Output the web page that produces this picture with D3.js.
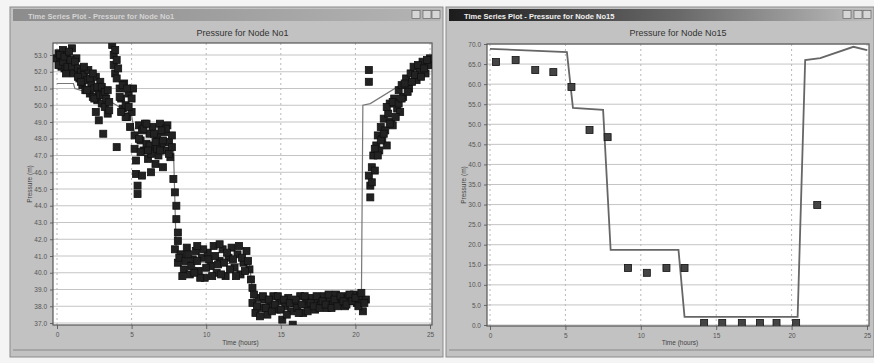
<!DOCTYPE html>
<html>
<head>
<meta charset="utf-8">
<script src="https://cdn.jsdelivr.net/npm/d3@7"></script>
<style>
  body { margin: 0; background: #f2f2f2; }
  svg { display: block; font-family: "Liberation Sans", Arial, sans-serif; }
</style>
</head>
<body>
<div id="chart"></div>
<script>
// ---- data ----
const timeTicks = [0, 5, 10, 15, 20, 25];
const node1Ticks = [37, 38, 39, 40, 41, 42, 43, 44, 45, 46, 47, 48, 49, 50, 51, 52, 53];
const node15Ticks = [0, 5, 10, 15, 20, 25, 30, 35, 40, 45, 50, 55, 60, 65, 70];

// Node 1 observed [hour, pressure]
const node1Observed = [
  [0.0,52.8],[0.1,53.1],[0.2,52.5],[0.3,52.9],[0.4,53.3],[0.5,52.2],[0.6,52.7],[0.7,53.0],[0.8,52.4],[0.9,52.0],
  [1.0,53.4],[1.1,52.6],[1.2,52.1],[0.3,52.3],[0.6,51.9],[1.3,52.8],
  [0.1,52.4],[0.2,53.0],[0.4,52.6],[0.5,52.9],[0.7,52.3],[0.8,53.2],[0.9,52.7],[1.0,52.3],[1.1,51.9],[1.2,52.6],
  [1.4,52.2],[1.5,51.6],[1.6,52.0],[1.7,51.2],[1.8,51.8],[1.9,50.9],[2.0,51.5],[2.1,52.1],[2.2,50.7],[2.3,51.3],
  [2.4,50.5],[2.5,51.0],[2.6,51.7],[2.7,50.3],[2.8,50.8],[2.9,51.4],[3.0,50.1],[2.6,49.6],[2.8,49.1],
  [1.4,51.7],[1.6,51.4],[1.8,52.3],[2.0,50.9],[2.2,51.6],[2.4,51.9],[2.5,50.4],[2.7,51.1],[2.9,50.6],[3.0,51.1],
  [3.1,50.6],[3.2,49.9],[3.3,50.4],[3.1,48.3],[3.4,49.5],[3.5,50.2],[3.2,50.8],[3.4,50.9],[3.5,49.7],
  [3.7,53.6],[3.8,53.0],[3.8,52.4],[3.9,53.3],[3.9,51.9],[4.0,52.7],[4.0,51.6],[4.1,52.2],[4.0,47.5],
  [4.2,51.0],[4.3,50.4],[4.4,49.8],[4.5,51.3],[4.6,50.0],[4.7,49.3],[4.8,50.7],[4.9,48.7],[5.0,49.6],[5.1,51.0],
  [4.2,50.5],[4.4,51.2],[4.6,49.3],[4.8,49.9],[5.0,50.4],[4.3,49.6],[4.7,51.0],
  [5.2,48.2],[5.2,47.4],[5.3,46.7],[5.3,45.9],[5.4,45.2],[5.4,44.7],
  [5.5,48.8],[5.6,47.9],[5.7,48.5],[5.8,47.3],[5.9,48.9],[6.0,47.7],[6.1,46.8],[6.2,48.3],[6.3,47.1],[6.4,48.7],
  [6.5,47.5],[6.6,46.5],[6.7,48.1],[6.8,47.0],[6.9,48.9],[7.0,47.6],[7.1,46.3],[7.2,48.4],[7.3,47.3],[7.4,48.8],
  [7.5,47.8],[7.6,46.9],[7.7,48.2],[7.8,45.6],[7.9,44.8],[6.3,46.0],[5.7,45.8],
  [5.5,48.0],[5.8,48.6],[6.0,48.9],[6.2,47.6],[6.5,48.3],[6.7,47.4],[6.9,47.3],[7.1,47.9],[7.3,48.6],[7.5,47.1],
  [7.7,47.5],[6.1,47.3],[6.6,47.8],[7.0,48.5],[5.6,47.2],
  [8.0,44.0],[8.0,43.2],[8.1,42.4],[8.1,41.9],
  [7.9,41.4],[8.1,40.6],[8.3,41.1],[8.5,40.2],[8.7,41.5],[8.9,39.9],[9.1,40.8],[9.3,41.3],[9.5,40.1],[9.7,40.9],
  [9.9,39.7],[10.1,41.2],[10.3,40.4],[10.5,41.6],[10.7,40.0],[10.9,40.7],[11.1,41.4],[11.3,39.8],[11.5,40.9],[11.7,41.5],
  [11.9,40.3],[12.1,41.1],[12.3,39.9],[12.5,40.6],[12.7,41.3],[12.9,40.2],[8.4,39.8],[9.6,39.7],[11.0,39.9],[12.2,41.6],
  [8.2,40.9],[8.6,40.7],[8.8,41.1],[9.0,40.4],[9.2,40.0],[9.4,40.7],[9.8,41.4],[10.0,40.3],[10.2,40.8],[10.4,39.8],
  [10.6,41.0],[10.8,40.5],[11.2,40.6],[11.4,41.2],[11.6,40.2],[11.8,40.8],[12.0,39.8],[12.4,40.9],[12.6,40.1],[12.8,40.7],
  [9.4,41.6],[10.9,41.7],
  [13.0,39.6],[13.1,39.1],
  [13.1,38.2],[13.3,37.6],[13.5,38.5],[13.7,37.9],[13.9,38.4],[14.1,37.5],[14.3,38.1],[14.5,38.6],[14.7,37.8],[14.9,38.3],
  [15.1,37.2],[15.3,38.0],[15.5,38.5],[15.7,37.7],[15.9,38.2],[16.1,37.9],[16.3,38.6],[16.5,37.6],[16.7,38.3],[16.9,38.0],
  [17.1,38.5],[17.3,37.8],[17.5,38.4],[17.7,38.1],[17.9,38.6],[18.1,37.9],[18.3,38.4],[18.5,38.1],[18.7,38.7],[18.9,38.2],
  [19.1,38.5],[19.3,38.0],[19.5,38.6],[19.7,38.3],[19.9,38.7],[20.1,38.2],[20.3,38.6],[20.5,37.7],[20.7,38.4],[15.8,36.9],
  [13.2,38.7],[13.4,38.0],[13.6,37.4],[13.8,38.6],[14.0,37.9],[14.2,38.4],[14.4,37.7],[14.6,38.1],[14.8,38.6],[15.0,37.8],
  [15.2,38.4],[15.4,37.5],[15.6,38.2],[16.0,38.4],[16.2,37.6],[16.4,38.1],[16.6,38.6],[16.8,37.7],[17.0,38.2],[17.2,38.0],
  [17.4,38.6],[17.6,37.9],[17.8,38.3],[18.0,38.1],[18.2,38.7],[18.4,37.9],[18.6,38.4],[18.8,38.0],[19.0,38.6],[19.2,38.3],
  [19.4,38.1],[19.6,38.7],[19.8,38.3],[20.0,38.5],[20.2,38.0],[20.4,38.8],[20.6,38.2],
  [20.9,52.1],[20.9,51.4],
  [20.9,45.8],[21.0,44.5],[21.0,45.2],[21.1,46.3],[21.2,47.0],[21.3,46.1],[21.4,47.6],[21.5,48.2],[21.6,47.3],[21.7,48.7],
  [21.8,48.0],[21.9,49.2],[22.0,48.5],[22.2,49.5],[22.3,50.1],[22.4,49.0],[22.6,50.4],[22.8,49.8],[22.9,50.9],[23.1,51.2],
  [23.2,50.5],[23.4,51.6],[23.6,51.0],[23.7,51.9],[23.9,52.3],[24.1,51.5],[24.3,52.1],[24.5,52.6],[24.7,51.9],[24.9,52.4],
  [25.0,52.8],[22.1,47.6],[22.5,48.8],[23.0,49.6],
  [21.1,45.4],[21.3,47.4],[21.5,47.0],[21.7,47.9],[21.9,48.3],[22.1,49.9],[22.3,48.9],[22.5,50.2],[22.7,49.3],[22.9,50.1],
  [23.1,50.4],[23.3,51.3],[23.5,50.8],[23.8,51.4],[24.0,51.8],[24.2,52.4],[24.4,51.7],[24.6,52.2],[24.8,52.7]
];

// Node 1 simulated
const node1Simulated = [
  [0,51.3],[1.1,51.3],[1.2,51.0],[3,50.5],[4,50.0],[5,49.4],[5.3,47.8],[7.8,47.6],[8.0,41.0],[8.2,40.7],
  [12.9,40.5],[13.2,38.2],[20.4,38.1],[20.5,50.0],[21.0,50.1],[25,52.3]
];

// Node 15 observed
const node15Observed = [
  [0.4,65.5],[1.7,66.0],[3.0,63.5],[4.2,63.0],[5.4,59.3],[6.6,48.6],[7.8,46.8],[9.15,14.2],[10.4,13.0],[11.7,14.2],
  [12.9,14.2],[14.2,0.5],[15.4,0.5],[16.7,0.5],[17.9,0.5],[19.0,0.5],[20.3,0.5],[21.7,29.9]
];

// Node 15 simulated
const node15Simulated = [
  [0,68.8],[5.1,68.0],[5.5,54.1],[7.5,53.6],[8.0,18.7],[12.5,18.7],[12.9,2.0],[20.4,2.0],[20.9,66.0],
  [21.9,66.5],[24.1,69.3],[25.0,68.5]
];

const W = 874, H = 363;
const svg = d3.select("#chart").append("svg").attr("width", W).attr("height", H);
svg.append("rect").attr("width", W).attr("height", H).attr("fill", "#f4f4f4");

const defs = svg.append("defs");
const inactive = defs.append("linearGradient").attr("id", "tbInactive");
inactive.append("stop").attr("offset", "0%").attr("stop-color", "#8c8c8c");
inactive.append("stop").attr("offset", "100%").attr("stop-color", "#b4b4b4");
const active = defs.append("linearGradient").attr("id", "tbActive");
active.append("stop").attr("offset", "0%").attr("stop-color", "#1c1c1c");
active.append("stop").attr("offset", "55%").attr("stop-color", "#6a6a6a");
active.append("stop").attr("offset", "100%").attr("stop-color", "#bdbdbd");

function drawWindow(cfg) {
  const g = svg.append("g");
  // window frame
  g.append("rect").attr("x", cfg.wx).attr("y", 7).attr("width", cfg.ww).attr("height", 350)
    .attr("fill", "#c2c2c2").attr("stroke", "#8a8a8a");
  g.append("rect").attr("x", cfg.wx + 3).attr("y", 9).attr("width", cfg.ww - 6).attr("height", 12)
    .attr("fill", cfg.activeWin ? "url(#tbActive)" : "url(#tbInactive)");
  g.append("text").attr("x", cfg.wx + 18).attr("y", 18.5)
    .style("font-size", "7.5px").style("font-weight", "bold")
    .attr("fill", cfg.activeWin ? "#f0f0f0" : "#d4d4d4")
    .text(cfg.winTitle);
  // control buttons
  [30, 19, 10].forEach(off => {
    g.append("rect").attr("x", cfg.wx + cfg.ww - off - 1).attr("y", 10.5).attr("width", 8).attr("height", 8)
      .attr("fill", "#d6d6d6").attr("stroke", "#555").attr("stroke-width", 0.6);
  });
  g.append("line").attr("x1", cfg.wx + 3).attr("x2", cfg.wx + cfg.ww - 3).attr("y1", 350).attr("y2", 350)
    .attr("stroke", "#888");

  // chart title
  g.append("text").attr("x", (cfg.px0 + cfg.px1) / 2).attr("y", 36)
    .attr("text-anchor", "middle").style("font-size", "9px").attr("fill", "#333")
    .text(cfg.title);

  // plot area
  g.append("rect").attr("x", cfg.px0).attr("y", cfg.py0)
    .attr("width", cfg.px1 - cfg.px0).attr("height", cfg.py1 - cfg.py0)
    .attr("fill", "#fff");

  const x = d3.scaleLinear().domain([0, 25]).range(cfg.xr);
  const y = d3.scaleLinear().domain(cfg.yd).range(cfg.yr);

  // grid
  g.append("g").selectAll("line").data(cfg.yTicks).join("line")
    .attr("x1", cfg.px0).attr("x2", cfg.px1)
    .attr("y1", d => y(d)).attr("y2", d => y(d))
    .attr("stroke", "#c4c4c4").attr("stroke-width", 1);
  g.append("g").selectAll("line").data(timeTicks).join("line")
    .attr("x1", d => x(d)).attr("x2", d => x(d))
    .attr("y1", cfg.py0).attr("y2", cfg.py1)
    .attr("stroke", "#b8b8b8").attr("stroke-dasharray", "2,3");

  // axes
  const yAxis = g.append("g").attr("transform", `translate(${cfg.px0},0)`)
    .call(d3.axisLeft(y).tickValues(cfg.yTicks).tickFormat(d3.format(".1f")).tickSize(3));
  yAxis.select(".domain").remove();
  yAxis.selectAll("text").style("font-size", "6.5px").attr("fill", "#555");
  yAxis.selectAll("line").attr("stroke", "#666");

  const xAxis = g.append("g").attr("transform", `translate(0,${cfg.py1})`)
    .call(d3.axisBottom(x).tickValues(timeTicks).tickSize(4).tickPadding(3));
  xAxis.select(".domain").remove();
  xAxis.selectAll("text").style("font-size", "6.5px").attr("fill", "#555");
  xAxis.selectAll("line").attr("stroke", "#666");

  g.append("text").attr("x", (cfg.px0 + cfg.px1) / 2 + cfg.xLabelShift).attr("y", 345)
    .attr("text-anchor", "middle").style("font-size", "6.5px").attr("fill", "#444")
    .text("Time (hours)");
  g.append("text")
    .attr("transform", `translate(${cfg.px0 - 21},${(cfg.py0 + cfg.py1) / 2}) rotate(-90)`)
    .attr("text-anchor", "middle").style("font-size", "6.5px").attr("fill", "#444")
    .text("Pressure (m)");

  // plot border
  g.append("rect").attr("x", cfg.px0).attr("y", cfg.py0)
    .attr("width", cfg.px1 - cfg.px0).attr("height", cfg.py1 - cfg.py0)
    .attr("fill", "none").attr("stroke", "#555").attr("stroke-width", 1.2);

  // clip
  const clipId = "clip" + cfg.wx;
  defs.append("clipPath").attr("id", clipId).append("rect")
    .attr("x", cfg.px0).attr("y", cfg.py0)
    .attr("width", cfg.px1 - cfg.px0).attr("height", cfg.py1 - cfg.py0);
  const plot = g.append("g").attr("clip-path", `url(#${clipId})`);

  plot.append("path").datum(cfg.sim)
    .attr("d", d3.line().x(d => x(d[0])).y(d => y(d[1])))
    .attr("fill", "none").attr("stroke", cfg.lineColor).attr("stroke-width", cfg.lineWidth);

  const s = cfg.sq;
  plot.append("g").selectAll("rect").data(cfg.obs).join("rect")
    .attr("x", d => x(d[0]) - s / 2).attr("y", d => y(d[1]) - s / 2)
    .attr("width", s).attr("height", s)
    .attr("fill", cfg.sqFill).attr("stroke", "#111").attr("stroke-width", 0.8);
}

drawWindow({
  wx: 10, ww: 433, activeWin: false,
  winTitle: "Time Series Plot - Pressure for Node No1",
  title: "Pressure for Node No1",
  px0: 53, px1: 432, py0: 43, py1: 325, xLabelShift: -2,
  xr: [57, 430], yd: [37, 53], yr: [323, 55], yTicks: node1Ticks,
  obs: node1Observed, sim: node1Simulated,
  sq: 7, sqFill: "#222", lineColor: "#777", lineWidth: 1.2
});

drawWindow({
  wx: 446, ww: 428, activeWin: true,
  winTitle: "Time Series Plot - Pressure for Node No15",
  title: "Pressure for Node No15",
  px0: 487, px1: 869, py0: 44, py1: 326, xLabelShift: 2,
  xr: [490, 867], yd: [0, 70], yr: [325, 44], yTicks: node15Ticks,
  obs: node15Observed, sim: node15Simulated,
  sq: 7, sqFill: "#444", lineColor: "#666", lineWidth: 1.8
});
</script>
</body>
</html>
